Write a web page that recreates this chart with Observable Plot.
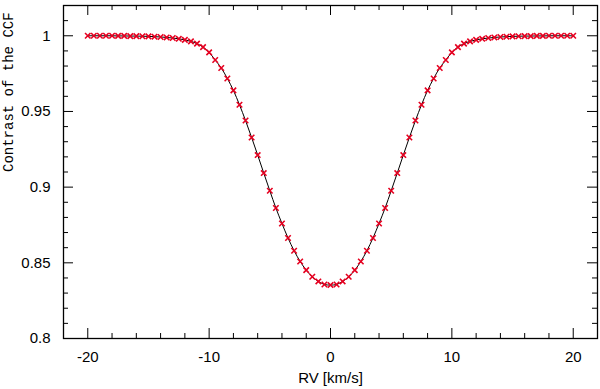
<!DOCTYPE html>
<html>
<head>
<meta charset="utf-8">
<script src="https://cdn.jsdelivr.net/npm/d3@7"></script>
<script src="https://cdn.jsdelivr.net/npm/@observablehq/plot@0.6"></script>
<style>
  html, body { margin: 0; padding: 0; background: #fff; }
  svg { display: block; }
</style>
</head>
<body>
<div id="chart"></div>
<script>
// RV grid (km/s) and CCF contrast values
const rv = [
  -20, -19.5, -19, -18.5, -18, -17.5, -17, -16.5, -16, -15.5, -15, -14.5, -14, -13.5,
  -13, -12.5, -12, -11.5, -11, -10.5, -10, -9.5, -9, -8.5, -8, -7.5, -7, -6.5, -6,
  -5.5, -5, -4.5, -4, -3.5, -3, -2.5, -2, -1.5, -1, -0.5, 0,
  0.5, 1, 1.5, 2, 2.5, 3, 3.5, 4, 4.5, 5, 5.5, 6, 6.5, 7, 7.5, 8, 8.5, 9, 9.5, 10,
  10.5, 11, 11.5, 12, 12.5, 13, 13.5, 14, 14.5, 15, 15.5, 16, 16.5, 17, 17.5, 18,
  18.5, 19, 19.5, 20
];
const contrast = [
  1.0000, 1.0000, 1.0000, 1.0000, 1.0000, 0.9999, 0.9999, 0.9998, 0.9998, 0.9997,
  0.9996, 0.9994, 0.9992, 0.9989, 0.9985, 0.9980, 0.9973, 0.9963, 0.9948, 0.9925,
  0.9890, 0.9840, 0.9787, 0.9718, 0.9639, 0.9544, 0.9440, 0.9328, 0.9212, 0.9093,
  0.8976, 0.8862, 0.8760, 0.8664, 0.8580, 0.8509, 0.8452, 0.8408, 0.8377, 0.8357,
  0.8353,
  0.8357, 0.8377, 0.8408, 0.8452, 0.8509, 0.8580, 0.8664, 0.8760, 0.8862, 0.8976,
  0.9093, 0.9212, 0.9328, 0.9440, 0.9544, 0.9639, 0.9718, 0.9787, 0.9840, 0.9890,
  0.9925, 0.9948, 0.9963, 0.9973, 0.9980, 0.9985, 0.9989, 0.9992, 0.9994, 0.9996,
  0.9997, 0.9998, 0.9998, 0.9999, 0.9999, 1.0000, 1.0000, 1.0000, 1.0000, 1.0000,
  1.0000
];

// Axis ticks
const xMajorTicks = [-20, -10, 0, 10, 20];
const xMinorTicks = [-18, -16, -14, -12, -8, -6, -4, -2, 2, 4, 6, 8, 12, 14, 16, 18];
const yMajorTicks = [0.8, 0.85, 0.9, 0.95, 1];
const yMinorTicks = [0.81, 0.82, 0.83, 0.84, 0.86, 0.87, 0.88, 0.89, 0.91, 0.92, 0.93, 0.94,
                     0.96, 0.97, 0.98, 0.99, 1.01];
const xTickLabels = ["-20", "-10", "0", "10", "20"];
const yTickLabels = ["0.8", "0.85", "0.9", "0.95", "1"];

const xLabel = "RV [km/s]";
const yLabel = "Contrast of the CCF";

const data = rv.map((v, i) => ({rv: v, c: contrast[i]}));

const W = 600, H = 389;
const mL = 63, mR = 3, mT = 5, mB = 51;
const pw = W - mL - mR, ph = H - mT - mB;
const majorLen = 10, minorLen = 5;

const chart = Plot.plot({
  width: W,
  height: H,
  marginLeft: mL,
  marginRight: mR,
  marginTop: mT,
  marginBottom: mB,
  style: {fontFamily: "'Liberation Sans', Arial, sans-serif", background: "#fff", color: "#000"},
  x: {domain: [-22, 22], axis: null},
  y: {domain: [0.8, 1.02], axis: null},
  marks: [
    // inward ticks, mirrored on all four sides
    Plot.tickX(xMajorTicks, {x: d => d, insetTop: ph - majorLen, stroke: "#000", strokeWidth: 1}),
    Plot.tickX(xMajorTicks, {x: d => d, insetBottom: ph - majorLen, stroke: "#000", strokeWidth: 1}),
    Plot.tickX(xMinorTicks, {x: d => d, insetTop: ph - minorLen, stroke: "#000", strokeWidth: 1}),
    Plot.tickX(xMinorTicks, {x: d => d, insetBottom: ph - minorLen, stroke: "#000", strokeWidth: 1}),
    Plot.tickY(yMajorTicks, {y: d => d, insetRight: pw - majorLen, stroke: "#000", strokeWidth: 1}),
    Plot.tickY(yMajorTicks, {y: d => d, insetLeft: pw - majorLen, stroke: "#000", strokeWidth: 1}),
    Plot.tickY(yMinorTicks, {y: d => d, insetRight: pw - minorLen, stroke: "#000", strokeWidth: 1}),
    Plot.tickY(yMinorTicks, {y: d => d, insetLeft: pw - minorLen, stroke: "#000", strokeWidth: 1}),
    // tick labels
    Plot.axisX({anchor: "bottom", ticks: xMajorTicks, tickSize: 0, tickPadding: 13, fontSize: 15,
                tickFormat: d => xTickLabels[xMajorTicks.indexOf(d)], label: null}),
    Plot.axisY({anchor: "left", ticks: yMajorTicks, tickSize: 0, tickPadding: 13, fontSize: 15,
                tickFormat: d => yTickLabels[yMajorTicks.indexOf(d)], label: null}),
    // fitted curve and measured points
    Plot.line(data, {x: "rv", y: "c", stroke: "#000", strokeWidth: 1, curve: "catmull-rom"}),
    Plot.dot(data, {x: "rv", y: "c", symbol: "times", r: 2.6, stroke: "#e60020", strokeWidth: 1.6}),
    Plot.frame({stroke: "#000", strokeWidth: 1.3}),
    // axis titles
    Plot.text([xLabel], {frameAnchor: "bottom", dy: 44, text: d => d, fontSize: 15,
                          fontFamily: "'Liberation Sans', Arial, sans-serif", fill: "#000"}),
    Plot.text([yLabel], {frameAnchor: "left", dx: -55, rotate: -90, text: d => d, fontSize: 14,
                          fontFamily: "'Liberation Mono', 'DejaVu Sans Mono', monospace", fill: "#000"})
  ]
});

document.getElementById("chart").appendChild(chart);
</script>
</body>
</html>
